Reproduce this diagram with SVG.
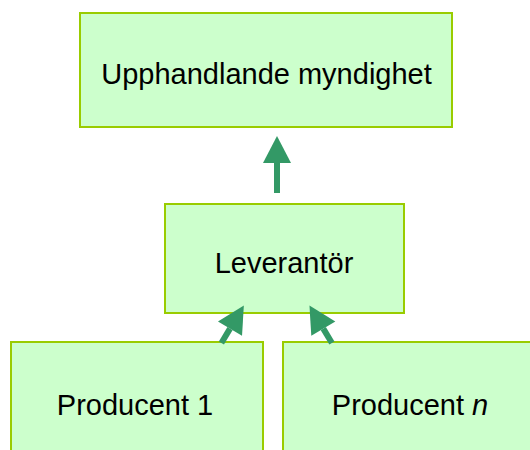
<svg xmlns="http://www.w3.org/2000/svg" width="530" height="450" viewBox="0 0 530 450">
  <style>
    .box { fill: #ccffcc; stroke: #99cc00; stroke-width: 2; }
    .label { font-family: "Liberation Sans", Arial, sans-serif; font-size: 29px; fill: #000000; text-anchor: middle; }
    .link { stroke: #339966; stroke-width: 6; fill: none; marker-end: url(#head); }
  </style>
  <defs>
    <marker id="head" markerUnits="userSpaceOnUse" markerWidth="28" markerHeight="28" refX="0" refY="14" orient="auto" overflow="visible">
      <path d="M0,0 L27,14 L0,28 Z" fill="#339966"/>
    </marker>
  </defs>

  <rect width="530" height="450" fill="#ffffff"/>

  <g id="upphandlande-myndighet">
    <rect class="box" x="80" y="13" width="372" height="114"/>
    <text class="label" x="266.5" y="84" font-size="29.6">Upphandlande myndighet</text>
  </g>

  <g id="leverantor">
    <rect class="box" x="165" y="204" width="239" height="109"/>
    <text class="label" x="284" y="272.5">Leverantör</text>
  </g>

  <g id="producent-1">
    <rect class="box" x="11" y="342" width="252" height="120"/>
    <text class="label" x="135" y="415">Producent 1</text>
  </g>

  <g id="producent-n">
    <rect class="box" x="283" y="342" width="260" height="120"/>
    <text class="label" x="410" y="415">Producent <tspan font-style="italic">n</tspan></text>
  </g>

  <g id="connectors">
    <line class="link" x1="277" y1="193" x2="277" y2="163"/>
    <line class="link" x1="221.4" y1="343" x2="230" y2="328.6"/>
    <line class="link" x1="331.9" y1="343" x2="323.3" y2="328.6"/>
  </g>
</svg>
